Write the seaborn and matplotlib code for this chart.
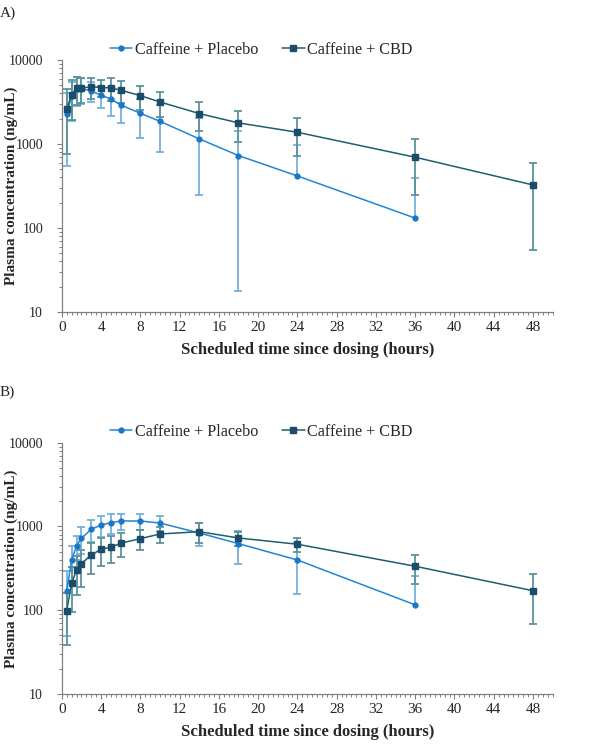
import numpy as np
import pandas as pd
import matplotlib
matplotlib.use("Agg")
import matplotlib.pyplot as plt
import seaborn as sns
from matplotlib.lines import Line2D
from matplotlib.ticker import LogLocator, MultipleLocator, FixedLocator, NullFormatter

# Scheduled sampling times (hours)
time_placebo = [0.5, 1, 1.5, 2, 3, 4, 5, 6, 8, 10, 14, 18, 24, 36]
time_cbd = [0.5, 1, 1.5, 2, 3, 4, 5, 6, 8, 10, 14, 18, 24, 36, 48]

# Panel A (mean, SD) ng/mL
a_placebo_mean = [2280, 3700, 4500, 4550, 4280, 3800, 3430, 2910, 2320, 1860, 1150, 727, 416, 131]
a_placebo_sd = [1730, 1800, 1700, 1600, 1150, 1140, 1280, 1130, 1150, 1064, 905, 709, 557, 260]
a_cbd_mean = [2610, 3830, 4600, 4600, 4820, 4680, 4650, 4360, 3760, 3160, 2300, 1780, 1377, 695, 325]
a_cbd_sd = [1850, 1900, 1700, 1500, 1350, 1050, 1400, 1260, 1190, 1040, 890, 720, 650, 445, 270]

# Panel B (mean, SD) ng/mL
b_placebo_mean = [171, 398, 585, 722, 925, 1042, 1110, 1163, 1163, 1100, 836, 624, 398, 116]
b_placebo_sd = [122, 187, 190, 255, 270, 292, 290, 250, 250, 225, 250, 268, 241, 143]
b_cbd_mean = [99, 210, 300, 360, 457, 535, 565, 631, 716, 813, 867, 729, 614, 335, 171]
b_cbd_sd = [61, 115, 150, 170, 186, 197, 200, 195, 190, 182, 225, 138, 122, 127, 103]

labels = ["Caffeine + Placebo", "Caffeine + CBD"]
line_colors = ["#2186d2", "#1d5f68"]
marker_colors = ["#1a76c6", "#1d4b6c"]
err_colors = ["#74b1e0", "#5b939b"]

sns.set_style("ticks")
plt.rcParams["font.family"] = ["Liberation Serif", "DejaVu Serif"]


def make_df(p_mean, p_sd, c_mean, c_sd):
    d1 = pd.DataFrame({"Time": time_placebo, "Conc": p_mean, "SD": p_sd, "Treatment": labels[0]})
    d2 = pd.DataFrame({"Time": time_cbd, "Conc": c_mean, "SD": c_sd, "Treatment": labels[1]})
    return pd.concat([d1, d2], ignore_index=True)


def draw_panel(ax, df, msizes):
    # error bars (lower part omitted when mean - SD <= 0, as on a log axis)
    for i, lab in enumerate(labels):
        sub = df[df["Treatment"] == lab]
        hi = sub["Conc"] + sub["SD"]
        lo = sub["Conc"] - sub["SD"]
        lo_draw = np.where(lo > 0, lo, sub["Conc"])
        ax.vlines(sub["Time"], lo_draw, hi, color=err_colors[i], lw=1.3, zorder=2)
        ax.scatter(sub["Time"], hi, marker="_", s=28, color=err_colors[i], lw=1.3, zorder=2)
        ok = lo > 0
        ax.scatter(sub["Time"][ok], lo[ok], marker="_", s=28, color=err_colors[i], lw=1.3, zorder=2)
    sns.lineplot(data=df, x="Time", y="Conc", hue="Treatment", palette=line_colors,
                 linewidth=1.1, legend=False, ax=ax, zorder=3)
    for i, lab in enumerate(labels):
        sub = df[df["Treatment"] == lab]
        ax.plot(sub["Time"], sub["Conc"], ls="none", marker=["o", "s"][i],
                ms=msizes[i], color=marker_colors[i], mec=marker_colors[i], zorder=4)

    ax.set_yscale("log")
    ax.set_ylim(10, 10000)
    ax.set_xlim(0, 50)
    ax.xaxis.set_major_locator(FixedLocator(np.arange(0, 49, 4)))
    ax.xaxis.set_minor_locator(MultipleLocator(0.5))
    ax.yaxis.set_major_locator(FixedLocator([10, 100, 1000, 10000]))
    ax.yaxis.set_major_formatter(matplotlib.ticker.FuncFormatter(lambda v, p: f"{int(v)}"))
    ax.yaxis.set_minor_locator(LogLocator(base=10, subs=np.arange(2, 10)))
    ax.yaxis.set_minor_formatter(NullFormatter())
    ax.tick_params(axis="both", which="major", direction="out", length=3.5, width=0.8,
                   color="#808080")
    ax.tick_params(axis="x", which="major", labelsize=11, pad=3)
    ax.tick_params(axis="y", which="major", labelsize=10, pad=10)
    ax.tick_params(axis="both", which="minor", direction="out", length=2.2, width=0.7,
                   color="#808080")
    for s in ["top", "right"]:
        ax.spines[s].set_visible(False)
    for s in ["left", "bottom"]:
        ax.spines[s].set_color("#808080")
        ax.spines[s].set_linewidth(0.9)
    ax.set_xlabel("Scheduled time since dosing (hours)", fontsize=12, fontweight="bold", labelpad=6)
    ax.set_ylabel("Plasma concentration (ng/mL)", fontsize=11, fontweight="bold")
    ax.yaxis.set_label_coords(-0.09, 0.5)
    ax.grid(False)


fig = plt.figure(figsize=(6, 7.51), dpi=100)
ax_a = fig.add_axes([0.103, 0.5846, 0.818, 0.3356])
ax_b = fig.add_axes([0.103, 0.0759, 0.818, 0.3346])

ms_a = [3.5, 5]
ms_b = [3.5, 3.8]
df_a = make_df(a_placebo_mean, a_placebo_sd, a_cbd_mean, a_cbd_sd)
df_b = make_df(b_placebo_mean, b_placebo_sd, b_cbd_mean, b_cbd_sd)
draw_panel(ax_a, df_a, ms_a)
draw_panel(ax_b, df_b, ms_b)

for y, ms in [(0.934, ms_a), (0.425, ms_b)]:
    handles = [Line2D([0], [0], color=line_colors[i], lw=1.1, marker=["o", "s"][i], ms=ms[i],
                      mfc=marker_colors[i], mec=marker_colors[i]) for i in range(2)]
    fig.legend(handles, labels, loc="center", bbox_to_anchor=(0.435, y), ncol=2, frameon=False,
               fontsize=11.6, handlelength=1.4, handletextpad=0.15, columnspacing=1.5)

fig.text(0.0, 0.991, "A)", fontsize=11, va="top", ha="left")
fig.text(0.0, 0.487, "B)", fontsize=11, va="top", ha="left")

fig.savefig("out.png", dpi=100)
